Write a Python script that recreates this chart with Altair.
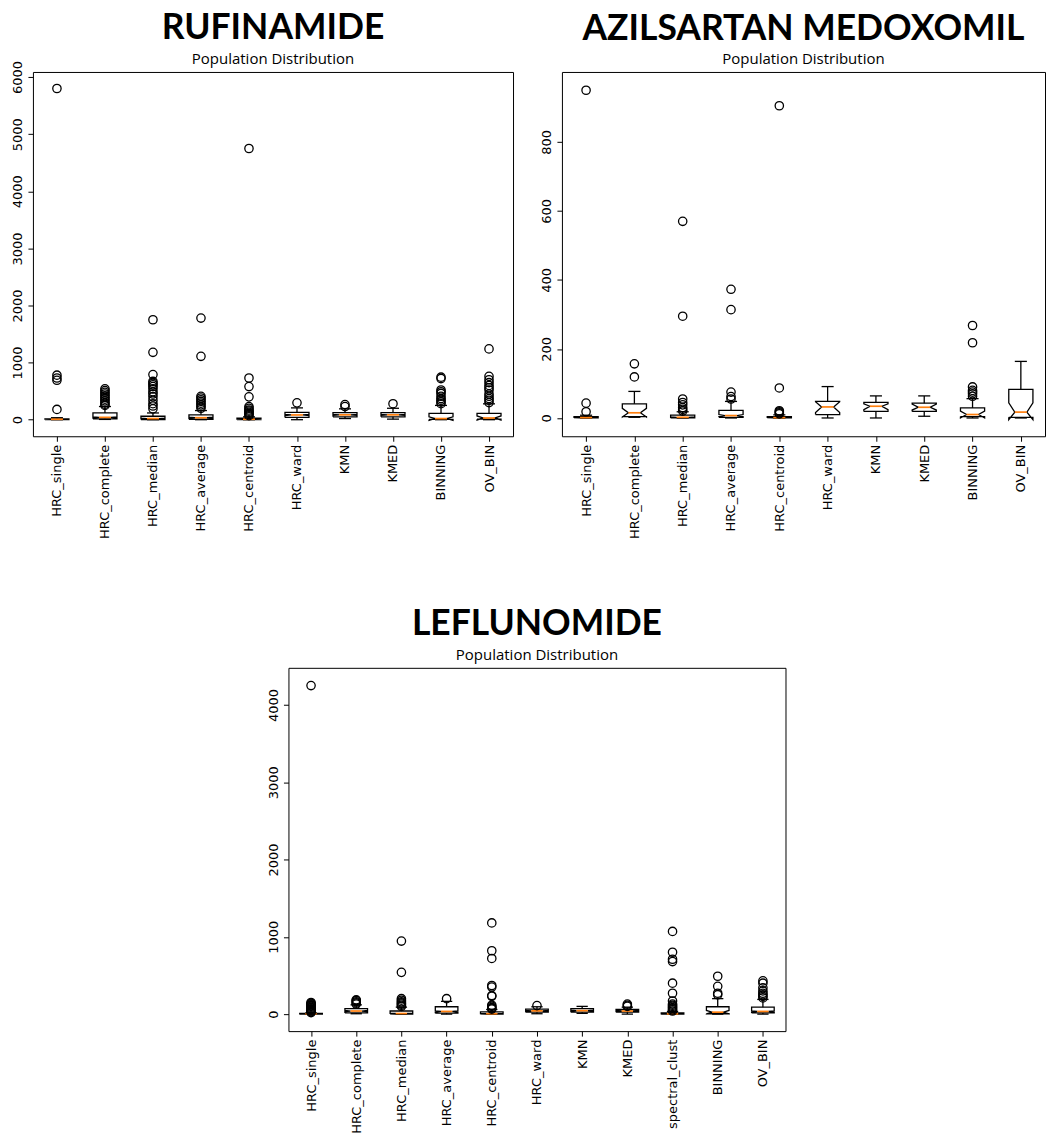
import altair as alt
import pandas as pd

# ---------------- RUFINAMIDE ----------------
r_cats = ["HRC_single", "HRC_complete", "HRC_median", "HRC_average", "HRC_centroid",
          "HRC_ward", "KMN", "KMED", "BINNING", "OV_BIN"]
r_wlo = [0, 5, 0, 0, 0, 0, 20, 10, 0, 0]
r_q1 = [2, 15, 3, 8, 2, 40, 50, 50, 5, 10]
r_med = [8, 41, 20, 35, 8, 83, 85, 85, 20, 30]
r_q3 = [15, 118, 60, 85, 25, 130, 125, 125, 112, 112]
r_whi = [35, 231, 118, 160, 50, 207, 190, 200, 250, 278]
r_nlo = [5, 33, 14, 27, 5, 72, 76, 75, -10, -5]
r_nhi = [11, 49, 26, 43, 11, 94, 94, 95, 50, 65]
r_out = [
    [180, 690, 730, 780, 5800],
    [250, 270, 300, 330, 360, 390, 420, 450, 480, 510, 540],
    [190, 240, 280, 340, 400, 450, 490, 540, 580, 610, 640, 670, 790, 1180, 1750],
    [200, 230, 260, 290, 320, 350, 380, 410, 1110, 1780],
    [70, 90, 110, 130, 150, 170, 200, 230, 400, 580, 730, 4750],
    [295],
    [230, 265],
    [280],
    [280, 310, 340, 370, 410, 460, 490, 520, 720, 745],
    [300, 340, 370, 410, 450, 520, 560, 600, 650, 700, 760, 1240],
]
r_ticks = [0, 1000, 2000, 3000, 4000, 5000, 6000]

# ---------------- AZILSARTAN MEDOXOMIL ----------------
a_cats = ["HRC_single", "HRC_complete", "HRC_median", "HRC_average", "HRC_centroid",
          "HRC_ward", "KMN", "KMED", "BINNING", "OV_BIN"]
a_wlo = [0, 2, 0, 0, 0, 0, 0, 5, 0, 0]
a_q1 = [0, 4, 0, 2, 0, 10, 19, 19, 4, 2]
a_med = [1, 15, 2, 7, 1, 32, 34, 31, 10, 17]
a_q3 = [4, 41, 8, 22, 4, 48, 45, 43, 29, 83]
a_whi = [8, 77, 18, 48, 9, 91, 64, 64, 56, 164]
a_nlo = [0.5, 3, 1, 4, 0.5, 16, 24, 23, 0, -5]
a_nhi = [1.5, 28, 3, 10, 1.5, 47, 41, 40, 20, 44]
a_out = [
    [18, 43, 950],
    [119, 157],
    [20, 25, 30, 38, 45, 55, 295, 570],
    [55, 62, 75, 314, 373],
    [12, 15, 18, 21, 87, 905],
    [],
    [],
    [],
    [63, 70, 75, 80, 90, 218, 268],
    [],
]
a_ticks = [0, 200, 400, 600, 800]

# ---------------- LEFLUNOMIDE ----------------
l_cats = ["HRC_single", "HRC_complete", "HRC_median", "HRC_average", "HRC_centroid",
          "HRC_ward", "KMN", "KMED", "spectral_clust", "BINNING", "OV_BIN"]
l_wlo = [0, 5, 0, 0, 0, 5, 10, 0, 0, 0, 0]
l_q1 = [1, 15, 0, 12, 0, 25, 25, 25, 0, 5, 15]
l_med = [3, 40, 8, 35, 5, 42, 45, 40, 3, 25, 35]
l_q3 = [8, 72, 40, 95, 28, 65, 70, 60, 15, 95, 90]
l_whi = [18, 120, 90, 165, 60, 95, 100, 90, 35, 200, 190]
l_nlo = [2, 32, 5, 27, 3, 37, 39, 35, 2, 2, 27]
l_nhi = [4, 48, 11, 43, 7, 47, 51, 45, 4, 48, 43]
l_out = [
    [20, 30, 40, 50, 60, 70, 80, 90, 100, 110, 120, 130, 140, 150, 4250],
    [130, 145, 160, 175, 185],
    [100, 115, 130, 145, 160, 180, 200, 540, 945],
    [200],
    [65, 75, 85, 100, 115, 230, 240, 350, 370, 720, 820, 1180],
    [110],
    [],
    [100, 115, 130],
    [40, 55, 70, 85, 100, 115, 130, 170, 270, 400, 680, 710, 800, 1070],
    [250, 270, 360, 490],
    [210, 230, 250, 270, 300, 340, 400, 430],
]
l_ticks = [0, 1000, 2000, 3000, 4000]

ORANGE = "#ff7f0e"
TICK_FONT = "DejaVu Sans"
LW = 1.3


def build_panel(name, cats, wlo, q1, med, q3, whi, nlo, nhi, outl, ydom, yticks,
                w, h, yext, xext, toff):
    n = len(cats)
    pos = list(range(1, n + 1))
    boxes = pd.DataFrame({"pos": pos, "wlo": wlo, "q1": q1, "med": med, "q3": q3,
                          "whi": whi, "nlo": nlo, "nhi": nhi})
    # notched box outline path (same vertex order as matplotlib)
    path_fields = ["q1", "nlo", "med", "nhi", "q3", "q3", "nhi", "med", "nlo", "q1", "q1"]
    path_side = [-1, -1, -0.5, -1, -1, 1, 1, 0.5, 1, 1, -1]
    rows = []
    for i in range(n):
        for k, (f, s) in enumerate(zip(path_fields, path_side)):
            rows.append({"pos": pos[i], "k": k, "side": s, "y": float(boxes.loc[i, f])})
    outline = pd.DataFrame(rows)
    fl = pd.DataFrame([{"pos": pos[i], "v": v} for i in range(n) for v in outl[i]])

    label_expr = "[" + ",".join("'%s'" % c for c in cats) + "][datum.value - 1]"
    xscale = alt.Scale(domain=[0.5, n + 0.5], nice=False, zero=False)
    yscale = alt.Scale(domain=ydom, nice=False, zero=False)
    xaxis = alt.Axis(values=pos, labelExpr=label_expr, title=None, grid=False,
                     domain=False, labelAngle=270, labelAlign="right",
                     labelBaseline="middle", labelFont=TICK_FONT, labelFontSize=13,
                     labelColor="black", tickColor="black", tickSize=5, tickWidth=1,
                     labelPadding=3, labelFlush=False, labelOverlap=False,
                     minExtent=xext, maxExtent=xext)
    yaxis = alt.Axis(values=yticks, format="d", title=None, grid=False, domain=False,
                     labelAngle=270, labelAlign="center", labelBaseline="bottom",
                     labelFont=TICK_FONT, labelFontSize=13, labelColor="black",
                     tickColor="black", tickSize=5, tickWidth=1, labelPadding=3,
                     labelFlush=False, labelOverlap=False,
                     minExtent=yext, maxExtent=yext)

    def X(f):
        return alt.X(f, type="quantitative", scale=xscale, axis=xaxis)

    def Y(f):
        return alt.Y(f, type="quantitative", scale=yscale, axis=yaxis)

    base = alt.Chart(boxes).transform_calculate(
        xl="datum.pos - 0.125", xr="datum.pos + 0.125")

    outline_layer = alt.Chart(outline).transform_calculate(
        xx="datum.pos + datum.side * 0.25"
    ).mark_line(color="black", strokeWidth=LW).encode(
        x=X("xx"), y=Y("y"), detail="pos:N", order=alt.Order("k:Q"))
    whisk_hi = base.mark_rule(color="black", strokeWidth=LW).encode(
        x=X("pos"), y=Y("q3"), y2="whi")
    whisk_lo = base.mark_rule(color="black", strokeWidth=LW).encode(
        x=X("pos"), y=Y("wlo"), y2="q1")
    cap_hi = base.mark_rule(color="black", strokeWidth=LW).encode(
        x=X("xl"), x2="xr", y=Y("whi"))
    cap_lo = base.mark_rule(color="black", strokeWidth=LW).encode(
        x=X("xl"), x2="xr", y=Y("wlo"))
    median = base.mark_rule(color=ORANGE, strokeWidth=1.7).encode(
        x=X("xl"), x2="xr", y=Y("med"))
    fliers = alt.Chart(fl).mark_point(shape="circle", filled=False, color="black",
                                      size=70, strokeWidth=1.3, opacity=1).encode(
        x=X("pos"), y=Y("v"))

    return alt.layer(outline_layer, whisk_hi, whisk_lo, cap_hi, cap_lo, median,
                     fliers).properties(
        width=w, height=h,
        title=alt.TitleParams(text=name, subtitle="Population Distribution",
                              font="Lato", fontSize=35.5, fontWeight="bold",
                              color="black", subtitleFont="Open Sans",
                              subtitleFontSize=15, subtitleColor="black",
                              anchor="middle", frame="group", offset=toff,
                              subtitlePadding=5))


p1 = build_panel("RUFINAMIDE", r_cats, r_wlo, r_q1, r_med, r_q3, r_whi, r_nlo, r_nhi,
                 r_out, [-290, 6090], r_ticks, 481, 365, 32, 100, -6)
p2 = build_panel("AZILSARTAN MEDOXOMIL", a_cats, a_wlo, a_q1, a_med, a_q3, a_whi,
                 a_nlo, a_nhi, a_out, [-53, 1003], a_ticks, 484, 365, 33, 100, 5)
p3 = build_panel("LEFLUNOMIDE", l_cats, l_wlo, l_q1, l_med, l_q3, l_whi, l_nlo, l_nhi,
                 l_out, [-220, 4480], l_ticks, 498, 364, 33, 110, 5)

spacer_df = pd.DataFrame({"a": [0]})
spacer = alt.Chart(spacer_df).mark_point(opacity=0).encode(
    x=alt.X("a:Q", axis=None), y=alt.Y("a:Q", axis=None)
).properties(width=215, height=364, view=alt.ViewBackground(strokeOpacity=0))

chart = alt.vconcat(
    alt.hconcat(p1, p2, spacing=14),
    alt.hconcat(spacer, p3, spacing=7),
    spacing=68,
).properties(
    padding={"left": 0, "top": 9, "right": 0, "bottom": 0},
    background="white",
).configure_view(stroke="black", strokeWidth=1)

chart.save("out.html", embed_options={"renderer": "svg", "actions": False})
